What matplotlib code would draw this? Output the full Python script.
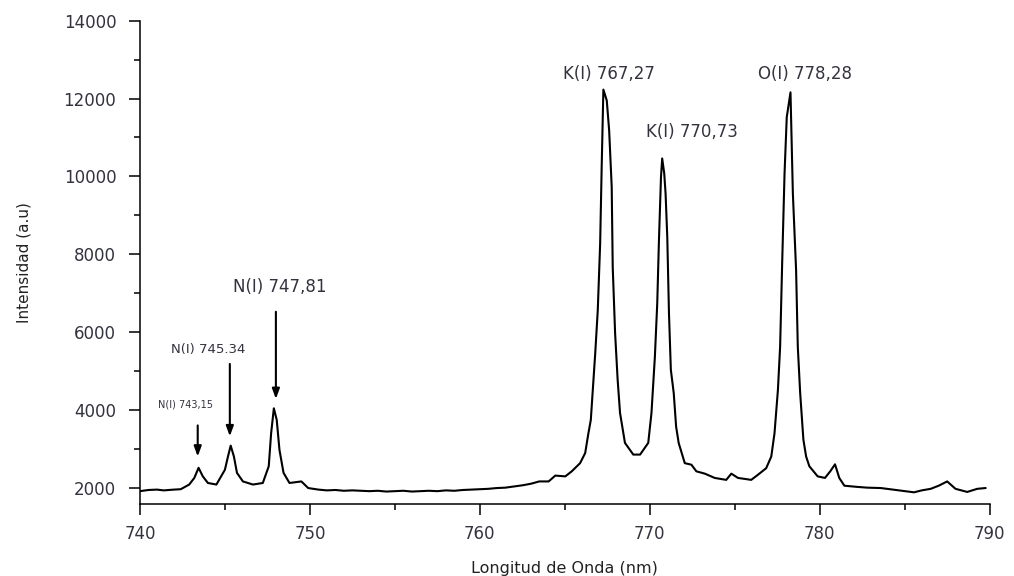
import matplotlib.pyplot as plt
from matplotlib.ticker import MultipleLocator
import numpy as np

# Emission spectrum (nm, a.u.)
wavelength = [
    740.0, 740.5, 741.0, 741.4, 742.0, 742.4, 742.9, 743.2, 743.45, 743.7,
    744.0, 744.5, 745.0, 745.18, 745.34, 745.53, 745.71, 746.06, 746.65, 747.23,
    747.58, 747.72, 747.88, 748.05, 748.21, 748.45, 748.8, 749.5, 749.9, 750.5,
    751.0, 751.5, 752.0, 752.5, 753.0, 753.5, 754.0, 754.5, 755.0, 755.5,
    756.0, 756.5, 757.0, 757.5, 758.0, 758.5, 759.0, 759.5, 760.0, 760.5,
    761.0, 761.5, 762.0, 762.5, 763.0, 763.5, 764.05, 764.44, 765.03, 765.41,
    765.9, 766.2, 766.39, 766.53, 766.65, 766.79, 766.94, 767.08, 767.17, 767.27,
    767.47, 767.61, 767.76, 767.82, 767.96, 768.11, 768.25, 768.54, 769.03, 769.43,
    769.91, 770.1, 770.3, 770.44, 770.54, 770.66, 770.73, 770.85, 770.93, 771.03,
    771.13, 771.24, 771.41, 771.55, 771.7, 772.06, 772.45, 772.74, 773.24, 773.82,
    774.5, 774.8, 775.19, 775.97, 776.36, 776.85, 777.15, 777.34, 777.54, 777.67,
    777.79, 777.93, 778.06, 778.28, 778.42, 778.61, 778.71, 778.85, 779.04, 779.2,
    779.39, 779.88, 780.31, 780.62, 780.9, 781.15, 781.45, 782.2, 782.8, 783.6,
    784.3, 784.97, 785.55, 786.0, 786.53, 787.0, 787.5, 787.99, 788.68, 789.27,
    789.75,
]
intensity = [
    1910, 1940, 1950, 1930, 1950, 1960, 2080, 2250, 2510, 2290,
    2120, 2080, 2460, 2800, 3080, 2800, 2380, 2160, 2080, 2120,
    2550, 3400, 4040, 3740, 2970, 2380, 2120, 2160, 1990, 1950,
    1930, 1940, 1920, 1930, 1920, 1910, 1920, 1900, 1910, 1920,
    1900, 1910, 1920, 1910, 1930, 1920, 1940, 1950, 1960, 1970,
    1990, 2000, 2030, 2060, 2100, 2160, 2160, 2310, 2290, 2420,
    2630, 2890, 3400, 3740, 4510, 5450, 6560, 8270, 10240, 12230,
    11950, 11180, 9730, 7670, 5970, 4770, 3920, 3150, 2850, 2850,
    3150, 3920, 5360, 6740, 8360, 9980, 10460, 10080, 9560, 8440,
    6480, 5030, 4430, 3570, 3150, 2630, 2590, 2420, 2360, 2250,
    2200, 2360, 2250, 2200, 2330, 2500, 2800, 3400, 4510, 5620,
    7760, 10070, 11520, 12160, 9560, 7590, 5620, 4430, 3230, 2800,
    2550, 2290, 2250, 2420, 2600, 2250, 2050, 2020, 2000, 1990,
    1950, 1910, 1880, 1930, 1970, 2050, 2160, 1970, 1890, 1970,
    1990,
]

# Peak labels: text, text position, arrow start, arrow tip
big_labels = ["K(I) 767,27", "K(I) 770,73", "O(I) 778,28", "N(I) 747,81"]
big_xy = [(767.6, 12640), (772.5, 11130), (779.15, 12640), (748.2, 7150)]
mid_label = "N(I) 745.34"
mid_xy = (744.0, 5560)
small_label = "N(I) 743,15"
small_xy = (742.67, 4130)
arrow_x = [743.4, 745.29, 748.0]
arrow_from = [3600, 5180, 6520]
arrow_to = [2800, 3320, 4280]

txt_color = "#33333f"

fig = plt.figure(figsize=(10.14, 5.76), dpi=100)
ax = fig.add_axes([0.138, 0.125, 0.838, 0.839])

ax.plot(wavelength, intensity, color="black", lw=1.5)

ax.set_xlim(740, 790)
ax.set_ylim(1580, 14000)
ax.xaxis.set_major_locator(MultipleLocator(10))
ax.xaxis.set_minor_locator(MultipleLocator(5))
ax.yaxis.set_major_locator(MultipleLocator(2000))
ax.yaxis.set_minor_locator(MultipleLocator(1000))

for side in ["top", "right"]:
    ax.spines[side].set_visible(False)
for side in ["left", "bottom"]:
    ax.spines[side].set_linewidth(1.1)

ax.tick_params(which="major", direction="out", length=8, width=1.1,
               labelsize=12, labelcolor=txt_color)
ax.tick_params(which="minor", direction="out", length=4.5, width=1.1)
ax.tick_params(axis="y", which="major", pad=9)
ax.tick_params(axis="x", which="major", pad=7)

ax.set_xlabel("Longitud de Onda (nm)", fontsize=11.5, color="#222222")
ax.set_ylabel("Intensidad (a.u)", fontsize=11, color="#222222")
ax.xaxis.set_label_coords(0.5, -0.118)
ax.yaxis.set_label_coords(-0.128, 0.5)

for lab, (x, y) in zip(big_labels, big_xy):
    ax.text(x, y, lab, fontsize=12, color=txt_color, ha="center", va="center")
ax.text(mid_xy[0], mid_xy[1], mid_label, fontsize=9.5, color=txt_color,
        ha="center", va="center")
ax.text(small_xy[0], small_xy[1], small_label, fontsize=7, color=txt_color,
        ha="center", va="center")

for x, y0, y1 in zip(arrow_x, arrow_from, arrow_to):
    ax.annotate("", xy=(x, y1), xytext=(x, y0),
                arrowprops=dict(arrowstyle="-|>,head_width=0.22,head_length=0.6",
                                color="black", lw=1.5, shrinkA=0, shrinkB=0))

fig.savefig("out.png", dpi=100)
